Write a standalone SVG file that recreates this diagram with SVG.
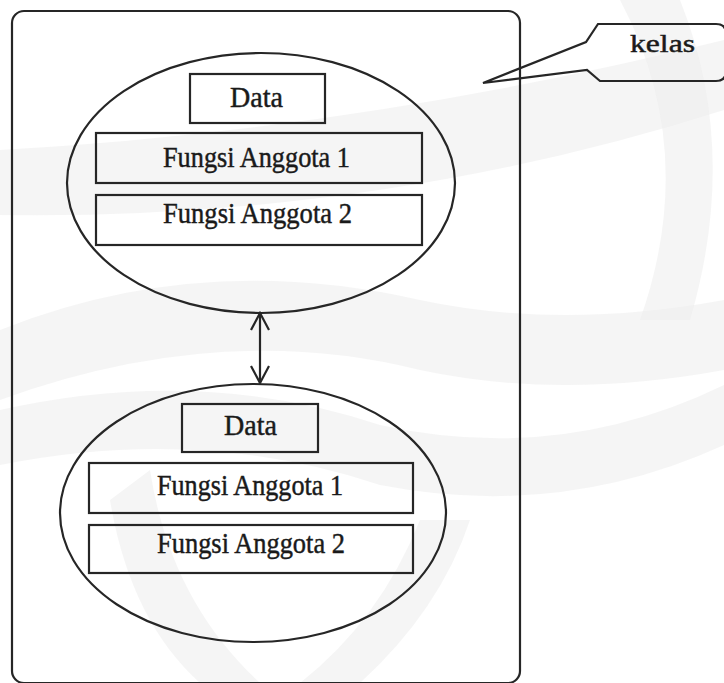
<svg xmlns="http://www.w3.org/2000/svg" width="724" height="683" viewBox="0 0 724 683">
  <style>
    .ln { fill: none; stroke: #262626; stroke-width: 2.2; }
    .lbl { font-family: "Liberation Serif", "Times New Roman", serif; fill: #1a1a1a; stroke: #1a1a1a; stroke-width: 0.45; text-anchor: start; }
    .wm { fill: #ededed; opacity: 0.55; }
  </style>
  <defs>
    <marker id="open" viewBox="0 0 20 20" refX="18" refY="10" markerWidth="20" markerHeight="20" markerUnits="userSpaceOnUse" orient="auto-start-reverse">
      <path d="M1,1 L18,10 L1,19" fill="none" stroke="#262626" stroke-width="2.2"/>
    </marker>
  </defs>

  <rect width="724" height="683" fill="#ffffff"/>

  <!-- faint background bands -->
  <g id="backdrop">
    <path class="wm" d="M0,150 Q360,130 724,40 L724,110 Q380,220 0,215 Z"/>
    <path class="wm" d="M0,330 Q200,250 420,300 Q560,330 724,300 L724,370 Q560,400 420,370 Q220,320 0,400 Z"/>
    <path class="wm" d="M0,410 Q200,365 380,425 Q560,465 724,385 L724,445 Q560,520 380,485 Q200,425 0,465 Z"/>
    <path class="wm" d="M110,500 Q130,620 200,683 L260,683 Q170,600 150,470 Z"/>
    <path class="wm" d="M420,520 Q380,620 300,683 L360,683 Q440,610 470,520 Z"/>
    <path class="wm" d="M620,0 Q700,150 640,320 L690,320 Q740,150 680,0 Z"/>
  </g>

  <!-- class frame -->
  <g id="frame">
    <rect class="ln" x="12" y="11" width="508" height="672" rx="12" ry="12"/>
  </g>

  <!-- callout label -->
  <g id="callout">
    <path class="ln" d="M598,24 L716,24 Q726,24 726,34 L726,71 Q726,81 716,81 L600,81 L587,70 L483,83 L586,42 Z"/>
    <text class="lbl" x="630" y="52" font-size="25" textLength="65" lengthAdjust="spacingAndGlyphs">kelas</text>
  </g>

  <!-- first object -->
  <g id="object1">
    <ellipse class="ln" cx="261" cy="183" rx="194" ry="130"/>
    <rect class="ln" x="190" y="74" width="135" height="49"/>
    <text class="lbl" x="230" y="107" font-size="29" textLength="53" lengthAdjust="spacingAndGlyphs">Data</text>
    <rect class="ln" x="96" y="133" width="326" height="50"/>
    <text class="lbl" x="163" y="167" font-size="29" textLength="187" lengthAdjust="spacingAndGlyphs">Fungsi Anggota 1</text>
    <rect class="ln" x="96" y="195" width="326" height="50"/>
    <text class="lbl" x="163" y="223" font-size="29" textLength="189" lengthAdjust="spacingAndGlyphs">Fungsi Anggota 2</text>
  </g>

  <!-- second object -->
  <g id="object2">
    <ellipse class="ln" cx="253" cy="513" rx="193" ry="129"/>
    <rect class="ln" x="182" y="404" width="136" height="48"/>
    <text class="lbl" x="224" y="435" font-size="29" textLength="53" lengthAdjust="spacingAndGlyphs">Data</text>
    <rect class="ln" x="89" y="463" width="324" height="50"/>
    <text class="lbl" x="157" y="495" font-size="29" textLength="186" lengthAdjust="spacingAndGlyphs">Fungsi Anggota 1</text>
    <rect class="ln" x="89" y="525" width="324" height="48"/>
    <text class="lbl" x="157" y="553" font-size="29" textLength="188" lengthAdjust="spacingAndGlyphs">Fungsi Anggota 2</text>
  </g>

  <!-- connectors -->
  <g id="connectors">
    <line class="ln" x1="260" y1="313" x2="260" y2="383" marker-start="url(#open)" marker-end="url(#open)"/>
  </g>
</svg>
